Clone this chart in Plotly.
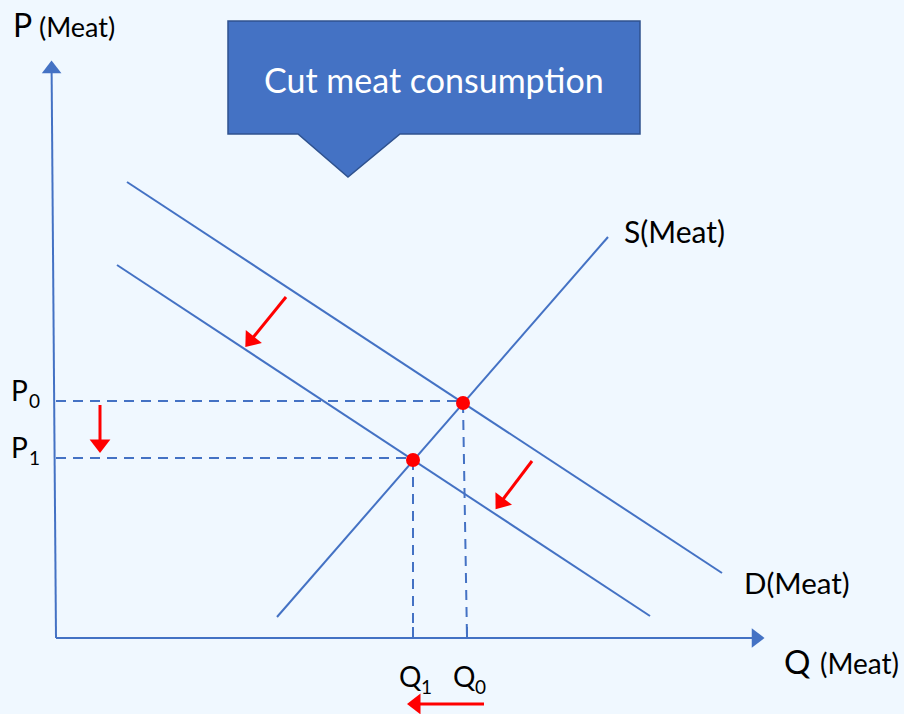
import plotly.graph_objects as go

# ---- data (diagram coordinates, pixel-like units: x right, y down) ----
supply_x = [277, 608]
supply_y = [617, 237]
demand0_x = [127, 722]
demand0_y = [182, 573]
demand1_x = [117, 650]
demand1_y = [265, 616]
eq_x = [463, 413]          # equilibrium Q0, Q1
eq_y = [403, 460]          # equilibrium P0, P1
q_ticks = [467, 413]
subscripts = ["0", "1"]
axis_origin = [56, 638]
axis_x_end = [756, 638]
axis_y_end = [51.6, 69]
shift_arrows = [  # (from_x, from_y, head_x, head_y)
    (286, 297, 251, 340),
    (532, 461, 501, 502),
    (100, 405, 100, 444),
    (484, 704, 416, 704),
]
callout_x = [228, 640, 640, 400, 348, 298, 228]
callout_y = [21, 21, 134, 134, 177, 134, 134]
callout_text = "Cut meat consumption"

BLUE = "#4472C4"
RED = "#FF0000"
BG = "#F0F8FF"
FONT = "Lato"

fig = go.Figure()

def line(xs, ys, dash="solid", width=2):
    fig.add_trace(go.Scatter(x=xs, y=ys, mode="lines",
                             line=dict(color=BLUE, width=width, dash=dash),
                             hoverinfo="skip", showlegend=False))

def arrow(xs, ys, color, width, head):
    fig.add_trace(go.Scatter(x=xs, y=ys, mode="lines+markers",
                             line=dict(color=color, width=width),
                             marker=dict(symbol="triangle-up", size=[0, head], color=color,
                                         opacity=1, angleref="previous",
                                         line=dict(width=0)),
                             hoverinfo="skip", showlegend=False))

# callout shape
path = "M " + " L ".join(f"{x},{y}" for x, y in zip(callout_x, callout_y)) + " Z"
fig.add_shape(type="path", path=path, xref="x", yref="y",
              fillcolor=BLUE, line=dict(color="#2F528F", width=1.5), layer="below")

# axes
arrow([axis_origin[0], axis_x_end[0]], [axis_origin[1], axis_x_end[1]], BLUE, 2, 17)
arrow([axis_origin[0], axis_y_end[0]], [axis_origin[1], axis_y_end[1]], BLUE, 2, 17)

# curves
line(supply_x, supply_y)
line(demand0_x, demand0_y)
line(demand1_x, demand1_y)

# dashed guides
for qx, py in zip(eq_x, eq_y):
    line([axis_origin[0], qx], [py - 2, py - 2], dash="10px,7px")
for qx, py, tx in zip(eq_x, eq_y, q_ticks):
    line([qx, tx], [py, axis_origin[1]], dash="10px,7px")

# ticks on Q axis
for tx in q_ticks:
    line([tx, tx], [axis_origin[1] - 11, axis_origin[1]])

# red shift arrows
for fx, fy, tx, ty in shift_arrows:
    arrow([fx, tx], [fy, ty], RED, 3, 18)

# equilibrium points
fig.add_trace(go.Scatter(x=eq_x, y=eq_y, mode="markers",
                         marker=dict(color=RED, size=14), hoverinfo="skip",
                         showlegend=False))

ann = []

def label(x, y, text, size, anchor="left", color="black"):
    ann.append(dict(x=x, y=y, xref="x", yref="y", text=text, showarrow=False,
                    xanchor=anchor, yanchor="middle",
                    font=dict(family=FONT, size=size, color=color)))

label(11, 24, "P", 32)
label(37, 26, "(Meat)", 27)
label(782, 661, "Q", 33)
label(818, 663, "(Meat)", 28)
label(622, 231, "S(Meat)", 30)
label(742, 582, "D(Meat)", 29.5)

# price labels P0, P1 (letter + subscript)
for py, sub in zip(eq_y, subscripts):
    label(9, py - 13, "P", 28)
    label(27, py - 3, sub, 19)
# quantity labels Q0, Q1
for tx, sub in zip(q_ticks, subscripts):
    label(tx - 16, 676, "Q", 28)
    label(tx + 6, 686, sub, 19)

label(434, 79, callout_text, 34, anchor="center", color="white")

fig.update_layout(annotations=ann)

fig.update_layout(
    width=904, height=714,
    margin=dict(l=0, r=0, t=0, b=0),
    paper_bgcolor=BG, plot_bgcolor=BG,
    xaxis=dict(range=[0, 904], visible=False, fixedrange=True),
    yaxis=dict(range=[714, 0], visible=False, fixedrange=True),
    showlegend=False,
)

fig.write_html("out.html", config={"displayModeBar": False},
               post_script="document.body.style.margin='0';document.body.style.background='" + BG + "';")
